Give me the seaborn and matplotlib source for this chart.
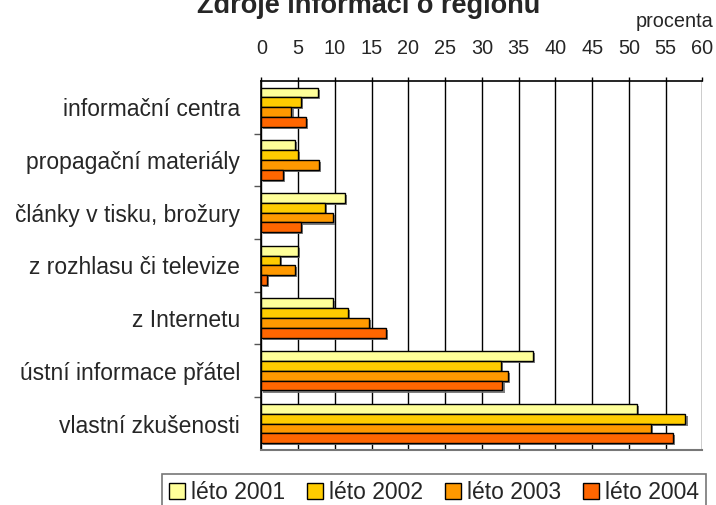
import matplotlib
matplotlib.use("Agg")
import matplotlib.pyplot as plt
import matplotlib.patheffects as pe
from matplotlib.patches import Patch
import seaborn as sns
import pandas as pd

categories = ["informační centra", "propagační materiály", "články v tisku, brožury",
              "z rozhlasu či televize", "z Internetu", "ústní informace přátel",
              "vlastní zkušenosti"]
series = ["léto 2001", "léto 2002", "léto 2003", "léto 2004"]
v2001 = [7.7, 4.6, 11.4, 5.0, 9.8, 36.9, 51.1]
v2002 = [5.4, 5.0, 8.6, 2.5, 11.8, 32.6, 57.7]
v2003 = [4.1, 7.8, 9.7, 4.6, 14.6, 33.5, 53.0]
v2004 = [6.1, 3.0, 5.4, 0.8, 16.9, 32.8, 56.0]
colors = ["#FFFF99", "#FFCC00", "#FF9900", "#FF6600"]
xticks = list(range(0, 61, 5))

rows = []
for s, vals in zip(series, [v2001, v2002, v2003, v2004]):
    for c, v in zip(categories, vals):
        rows.append({"kategorie": c, "rok": s, "procenta": v})
df = pd.DataFrame(rows)

sns.set_style("white")
plt.rcParams["font.family"] = ["Liberation Sans", "DejaVu Sans"]

fig = plt.figure(figsize=(7.16, 5.05), dpi=100)
ax = fig.add_axes([0.365, 0.109, 0.616, 0.731])

sns.barplot(data=df, y="kategorie", x="procenta", hue="rok", order=categories,
            hue_order=series, palette=colors, orient="h", width=0.745, gap=0,
            edgecolor="black", linewidth=1.0, errorbar=None, legend=False, ax=ax,
            saturation=1)

for p in ax.patches:
    p.set_path_effects([pe.SimplePatchShadow(offset=(1.5, -1.5), shadow_rgbFace="#707070", alpha=0.9),
                        pe.Normal()])
    p.set_zorder(3)

ax.set_xlim(0, 60)
ax.set_ylim(len(categories) - 0.5, -0.5)
ax.set_xticks(xticks)
ax.xaxis.tick_top()
ax.tick_params(axis="x", top=True, bottom=False, labeltop=True, labelbottom=False,
               length=3, width=1, color="black", pad=13.5, labelsize=14.3)
ax.tick_params(axis="y", left=False, length=0, pad=15.3, labelsize=16.5)
ax.set_yticks([i - 0.5 for i in range(1, len(categories))], minor=True)
ax.tick_params(axis="y", which="minor", left=True, length=5, width=1, color="#555555")
ax.set_xlabel("")
ax.set_ylabel("")
ax.grid(axis="x", color="black", linewidth=1, zorder=0)
ax.set_axisbelow(True)
for s in ["top", "left"]:
    ax.spines[s].set_color("black")
    ax.spines[s].set_linewidth(1.2)
ax.spines["right"].set_visible(False)
ax.spines["bottom"].set_color("#777777")
ax.spines["bottom"].set_linewidth(1.5)

fig.text(369 / 716, 1 - 13 / 505, "Zdroje informací o regionu", ha="center", va="baseline",
         fontsize=19.5, fontweight="bold")
fig.text(713 / 716, 1 - 27 / 505, "procenta", ha="right", va="baseline", fontsize=14.3)

handles = [Patch(facecolor=c, edgecolor="black", linewidth=1) for c in colors]
leg = fig.legend(handles, series, loc="upper right", bbox_to_anchor=(706 / 716, 1 - 474 / 505),
                 ncol=4, fontsize=16.5, frameon=True, fancybox=False, edgecolor="#555555",
                 handlelength=0.7, handleheight=0.7, handletextpad=0.26, columnspacing=0.96,
                 borderpad=0.3, borderaxespad=0)
leg.get_frame().set_linewidth(1.2)

fig.savefig("out.png", dpi=100)
